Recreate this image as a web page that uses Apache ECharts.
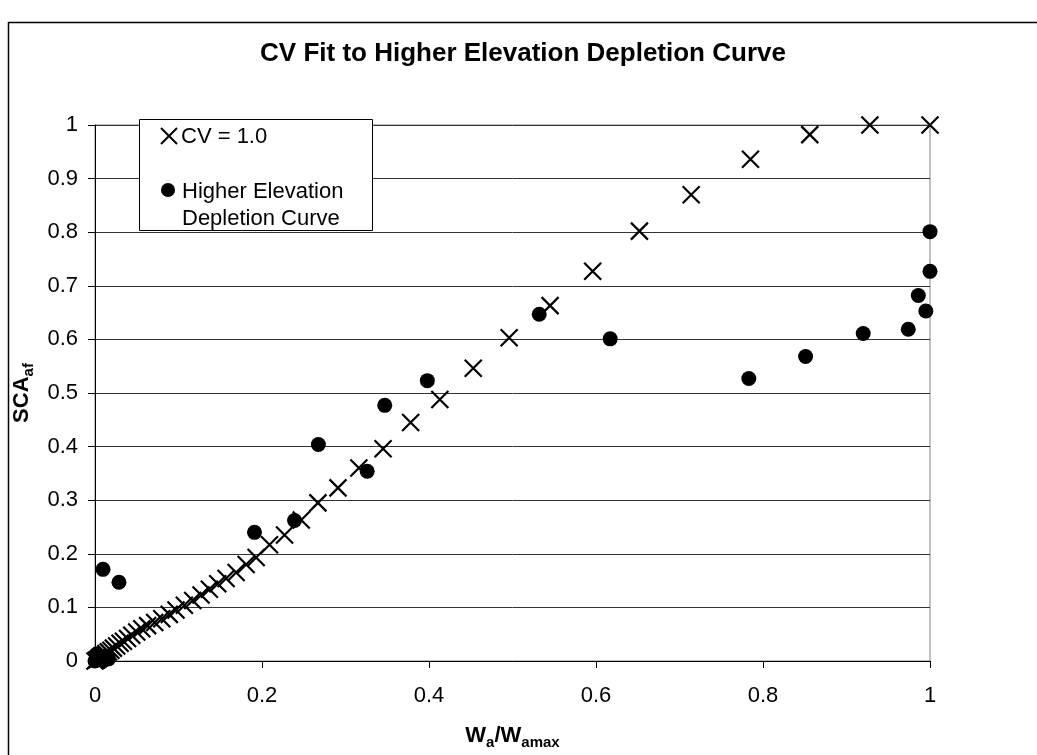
<!DOCTYPE html>
<html>
<head>
<meta charset="utf-8">
<script src="https://cdn.jsdelivr.net/npm/echarts@6/dist/echarts.min.js"></script>
<style>
html,body{margin:0;padding:0;background:#fff;}
#chart{width:1037px;height:755px;}
</style>
</head>
<body>
<div id="chart"></div>
<script>
// ---- data ----
const titleText = 'CV Fit to Higher Elevation Depletion Curve';
const seriesNames = ['CV = 1.0', 'Higher Elevation\nDepletion Curve'];

// CV = 1.0 (crosses)
const cvX = [1.0, 0.928, 0.856, 0.785, 0.714, 0.652, 0.596, 0.545, 0.496, 0.453, 0.413, 0.378, 0.345, 0.316, 0.291, 0.267, 0.247, 0.227, 0.209, 0.193, 0.181, 0.169, 0.157, 0.147, 0.137, 0.127, 0.117, 0.107, 0.097, 0.089, 0.080, 0.0715, 0.063, 0.056, 0.050, 0.044, 0.039, 0.034, 0.030, 0.026, 0.022, 0.019, 0.016, 0.013, 0.010, 0.008, 0.006, 0.004, 0.002, 0.0];
const cvY = [1.0, 1.0, 0.982, 0.936, 0.870, 0.802, 0.727, 0.663, 0.603, 0.546, 0.488, 0.445, 0.396, 0.360, 0.323, 0.295, 0.263, 0.235, 0.217, 0.193, 0.180, 0.165, 0.154, 0.144, 0.134, 0.123, 0.113, 0.104, 0.095, 0.087, 0.079, 0.072, 0.066, 0.060, 0.054, 0.048, 0.042, 0.037, 0.033, 0.028, 0.024, 0.020, 0.017, 0.014, 0.011, 0.009, 0.006, 0.004, 0.002, 0.0];

// Higher Elevation Depletion Curve (dots)
const hedX = [1.0, 1.0, 0.986, 0.995, 0.974, 0.920, 0.851, 0.783, 0.617, 0.532, 0.398, 0.347, 0.326, 0.2675, 0.239, 0.191, 0.0287, 0.0096, 0.016, 0.012, 0.008, 0.004, 0.002, 0.0];
const hedY = [0.801, 0.727, 0.682, 0.653, 0.619, 0.611, 0.568, 0.527, 0.601, 0.647, 0.523, 0.477, 0.354, 0.404, 0.262, 0.240, 0.147, 0.171, 0.004, 0.009, 0.002, 0.006, 0.013, 0.0];

const xTicks = {min: 0, max: 1, interval: 0.2};
const yTicks = {min: 0, max: 1, interval: 0.1};

const cvData = cvX.map((x, i) => [x, cvY[i]]);
const hedData = hedX.map((x, i) => [x, hedY[i]]);

const FONT = '"Liberation Sans", Arial, sans-serif';
const crossPath = 'path://M0 0L10 10M10 0L0 10';

const chart = echarts.init(document.getElementById('chart'), null, {renderer: 'canvas'});
const option = {
  backgroundColor: '#fff',
  animation: false,
  textStyle: {fontFamily: FONT, color: '#000'},
  title: {
    text: titleText,
    left: 518, top: 36, textAlign: 'center',
    textStyle: {fontFamily: FONT, fontSize: 26, fontWeight: 'bold', color: '#000'}
  },
  grid: {
    left: 95, right: 107, top: 125, bottom: 85,
    show: true, borderColor: '#808080', borderWidth: 1, backgroundColor: 'transparent'
  },
  xAxis: {
    type: 'value', min: xTicks.min, max: xTicks.max, interval: xTicks.interval,
    axisLine: {show: true, onZero: false, lineStyle: {color: '#000', width: 1}},
    axisTick: {show: true, inside: false, length: 7, lineStyle: {color: '#000'}},
    splitLine: {show: false},
    axisLabel: {margin: 24, fontSize: 22, color: '#000', fontFamily: FONT},
    name: '{b|W}{s|a}{b|/W}{s|amax}',
    nameLocation: 'middle', nameGap: 60,
    nameTextStyle: {
      fontFamily: FONT, color: '#000',
      rich: {
        b: {fontSize: 22, fontWeight: 'bold', fontFamily: FONT, color: '#000'},
        s: {fontSize: 15, fontWeight: 'bold', fontFamily: FONT, color: '#000', padding: [14, 0, 0, 0]}
      }
    }
  },
  yAxis: {
    type: 'value', min: yTicks.min, max: yTicks.max, interval: yTicks.interval,
    axisLine: {show: true, onZero: false, lineStyle: {color: '#000', width: 1}},
    axisTick: {show: true, inside: false, length: 7, lineStyle: {color: '#000'}},
    splitLine: {show: true, lineStyle: {color: '#333', width: 1}},
    axisLabel: {margin: 17, fontSize: 22, color: '#000', fontFamily: FONT},
    name: '{b|SCA}{s|af}',
    nameLocation: 'middle', nameGap: 52, nameRotate: 90,
    nameTextStyle: {
      fontFamily: FONT, color: '#000',
      rich: {
        b: {fontSize: 22, fontWeight: 'bold', fontFamily: FONT, color: '#000'},
        s: {fontSize: 15, fontWeight: 'bold', fontFamily: FONT, color: '#000', padding: [14, 0, 0, 0]}
      }
    }
  },
  series: [
    {
      name: seriesNames[0], type: 'scatter', data: cvData,
      symbol: crossPath, symbolSize: 17, clip: false,
      itemStyle: {color: 'none', borderColor: '#000', borderWidth: 2.2, opacity: 1},
      emphasis: {disabled: true},
      z: 3
    },
    {
      name: seriesNames[1], type: 'scatter', data: hedData,
      symbol: 'circle', symbolSize: 15, clip: false,
      itemStyle: {color: '#000', borderWidth: 0, opacity: 1},
      emphasis: {disabled: true},
      z: 4
    }
  ],
  graphic: [
    // outer chart-area border
    {type: 'rect', shape: {x: 8.5, y: 22.5, width: 1100, height: 800},
     style: {fill: 'none', stroke: '#000', lineWidth: 1.5}, silent: true, z: 0},
    // legend box
    {type: 'rect', shape: {x: 139.5, y: 119.5, width: 233, height: 111},
     style: {fill: '#fff', stroke: '#000', lineWidth: 1}, z: 10},
    {type: 'line', shape: {x1: 161, y1: 128, x2: 177, y2: 144},
     style: {stroke: '#000', lineWidth: 2}, z: 11},
    {type: 'line', shape: {x1: 177, y1: 128, x2: 161, y2: 144},
     style: {stroke: '#000', lineWidth: 2}, z: 11},
    {type: 'text', left: 181, top: 126,
     style: {text: seriesNames[0], font: '22px ' + FONT, fill: '#000'}, z: 11},
    {type: 'circle', shape: {cx: 168, cy: 190, r: 7}, style: {fill: '#000'}, z: 11},
    {type: 'text', left: 182, top: 178,
     style: {text: seriesNames[1], font: '22px ' + FONT, fill: '#000', lineHeight: 27}, z: 11}
  ]
};
chart.setOption(option);
</script>
</body>
</html>
